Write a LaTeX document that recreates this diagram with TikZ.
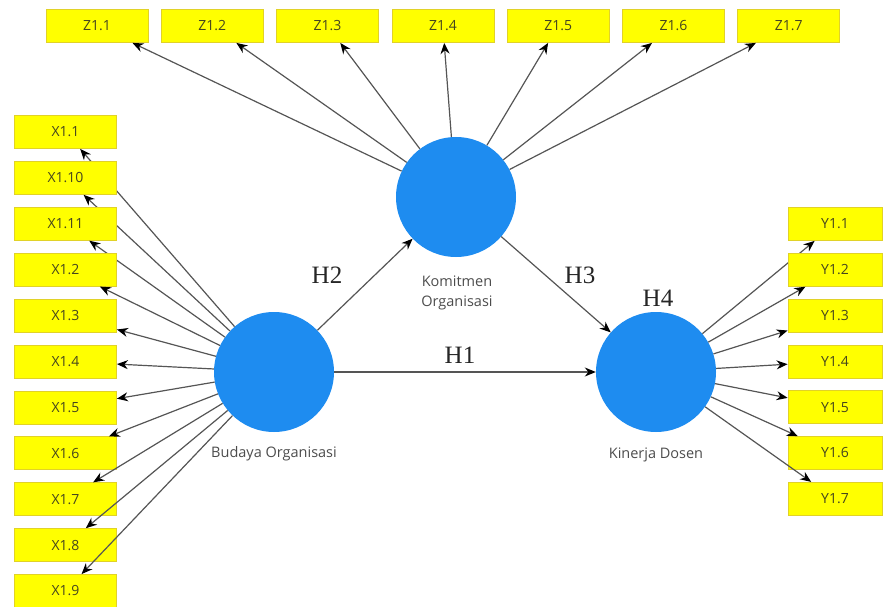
\documentclass[tikz,border=0pt]{standalone}
\usepackage{fontspec}
\setmainfont{Liberation Serif}
\newfontfamily\uifont{Open Sans}
\usetikzlibrary{arrows.meta}
\definecolor{ybox}{RGB}{255,255,0}
\definecolor{yedge}{RGB}{225,210,40}
\definecolor{ytext}{RGB}{70,70,30}
\definecolor{lv}{RGB}{30,140,240}
\definecolor{conn}{RGB}{85,85,85}
\begin{document}
\begin{tikzpicture}[x=1pt,y=-1pt,
 ind/.style={rectangle, draw=yedge, fill=ybox, line width=0.8pt, minimum width=102pt, minimum height=33pt, inner sep=0pt, font=\uifont\fontsize{14}{16}\selectfont, text=ytext},
 indy/.style={ind, minimum width=94pt},
 lat/.style={circle, fill=lv, minimum size=120pt, inner sep=0pt},
 lbl/.style={font=\uifont\fontsize{14.5}{20}\selectfont, text=black!70, align=center},
 hyp/.style={font=\fontsize{25}{27}\selectfont, text=black!85},
 link/.style={draw=conn, line width=1.2pt, -{Stealth[length=11pt,width=9pt,color=black]}}
]
\useasboundingbox (0,0) rectangle (884,607);
% latent variables
\node[lat] (ko) at (456,197) {};
\node[lat] (bo) at (274,372) {};
\node[lat] (kd) at (656,372) {};
% labels
\node[lbl] (kol) at (457,293) {Komitmen\\Organisasi};
\node[lbl] (bol) at (274,454) {Budaya Organisasi};
\node[lbl] (kdl) at (656,455) {Kinerja Dosen};
% hypotheses
\node[hyp] (h1) at (460,355) {H1};
\node[hyp] (h2) at (327,275) {H2};
\node[hyp] (h3) at (580,275) {H3};
\node[hyp] (h4) at (658,298) {H4};
% indicators X
\foreach \n [count=\i from 0] in {1.1,1.10,1.11,1.2,1.3,1.4,1.5,1.6,1.7,1.8,1.9}{
  \node[ind] (x\i) at (65.5,{132+45.9*\i}) {X\n};
  \draw[link] (bo) -- (x\i);
}
% indicators Z
\foreach \i in {1,...,7}{
  \node[ind] (z\i) at ({97+115.3*(\i-1)},26) {Z1.\i};
  \draw[link] (ko) -- (z\i);
}
% indicators Y
\foreach \i in {1,...,7}{
  \node[indy] (y\i) at (835,{224+45.8*(\i-1)}) {Y1.\i};
  \draw[link] (kd) -- (y\i);
}
% structural paths
\draw[link] (bo) -- (ko);
\draw[link] (ko) -- (kd);
\draw[link] (bo) -- (kd);
\end{tikzpicture}
\end{document}
